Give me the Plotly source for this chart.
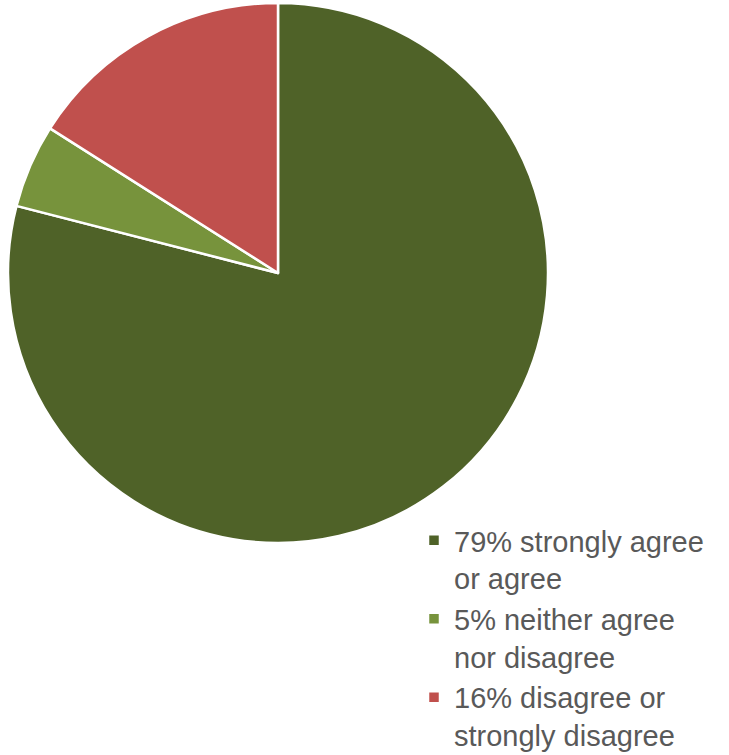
import plotly.graph_objects as go

labels = ["79% strongly agree<br>or agree", "5% neither agree<br>nor disagree", "16% disagree or<br>strongly disagree"]
values = [79, 5, 16]
colors = ["#4F6228", "#77933C", "#C0504D"]

W, H = 729, 755
fig = go.Figure(go.Pie(
    labels=labels, values=values, sort=False, direction="clockwise", rotation=0,
    marker=dict(colors=colors, line=dict(color="white", width=2.5)),
    textinfo="none", hoverinfo="label",
    domain=dict(x=[8/W, 548/W], y=[1-543/H, 1-3/H]),
))
fig.update_layout(
    width=W, height=H, margin=dict(l=0, r=0, t=0, b=0, autoexpand=False),
    paper_bgcolor="white", plot_bgcolor="white",
    showlegend=True,
    legend=dict(x=414/W, y=1-515/H, xanchor="left", yanchor="top",
                font=dict(family="Liberation Sans, Arial", size=29, color="#595959"),
                valign="top", itemwidth=30, tracegroupgap=0),
)
fig.write_html("out.html", config={"displayModeBar": False},
               post_script="document.body.style.margin='0';")
